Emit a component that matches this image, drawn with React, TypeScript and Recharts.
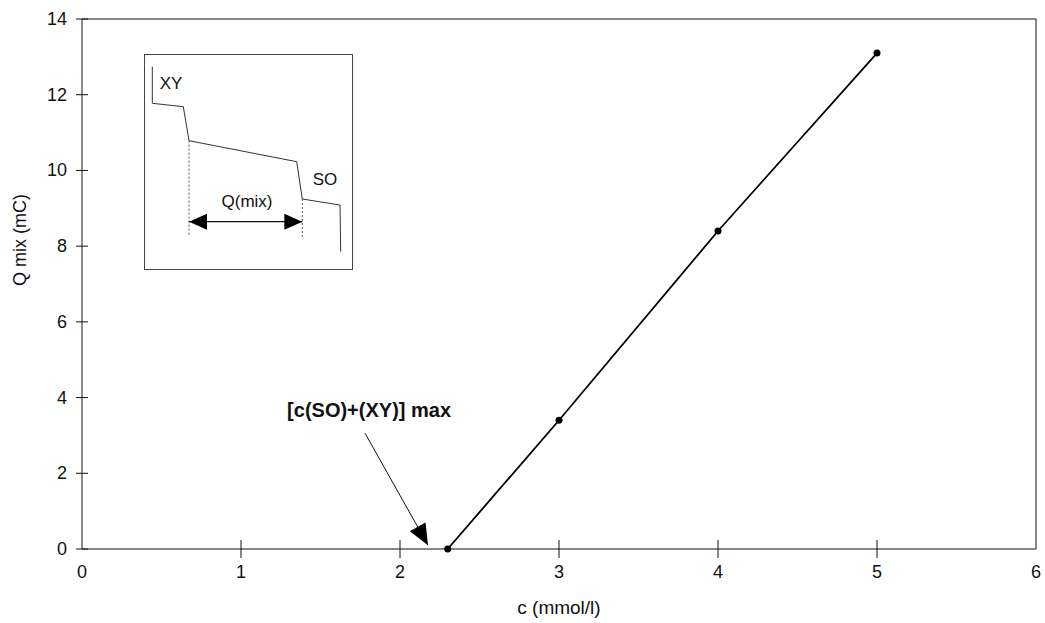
import React from 'react';
import {
  LineChart,
  Line,
  XAxis,
  YAxis,
  ReferenceLine,
  ReferenceDot,
} from 'recharts';

if (typeof document !== 'undefined') document.body.style.margin = '0';

const FONT = '"Liberation Sans", Arial, sans-serif';

// main series: c (mmol/l) vs Q mix (mC)
const cValues = [2.3, 3, 4, 5];
const qValues = [0, 3.4, 8.4, 13.1];
const xTicks = [0, 1, 2, 3, 4, 5, 6];
const yTicks = [0, 2, 4, 6, 8, 10, 12, 14];

// annotation arrow for "[c(SO)+(XY)] max"
const arrowC = [1.78, 2.176];
const arrowQ = [3.06, 0.1];
const noteText = '[c(SO)+(XY)] max';
const noteAt = { c: 1.29, q: 3.67 };

// inset schematic (arbitrary units: time vs potential)
const insetT = [7.3, 7.3, 38.3, 44, 151.7, 157.3, 195, 195.7];
const insetV = [202.3, 165.7, 162.3, 128.3, 107.3, 70, 64, 17.3];
const insetMarks = [
  { t: 44, top: 128.3, bottom: 32.3 },
  { t: 157.3, top: 70, bottom: 32.3 },
];
const insetArrowT = [44, 157.3];
const insetArrowV = 47.3;

const mainData = cValues.map((c, i) => ({ c, q: qValues[i] }));
const arrowData = arrowC.map((c, i) => ({ c, q: arrowQ[i] }));
const insetData = insetT.map((t, i) => ({ t, v: insetV[i] }));
const insetArrowData = insetArrowT.map((t) => ({ t, v: insetArrowV }));

function makeArrowDot(ends: number[], len: number, half: number) {
  return (props: any) => {
    const { cx, cy, index, points } = props;
    if (!ends.includes(index) || !points || points.length < 2) return <g key={`a-${index}`} />;
    const other = points[index === 0 ? 1 : index - 1];
    let dx = cx - other.x;
    let dy = cy - other.y;
    const d = Math.hypot(dx, dy) || 1;
    dx /= d;
    dy /= d;
    const bx = cx - dx * len;
    const by = cy - dy * len;
    const px = -dy * half;
    const py = dx * half;
    return (
      <polygon
        key={`a-${index}`}
        points={`${cx},${cy} ${bx + px},${by + py} ${bx - px},${by - py}`}
        fill="#000"
      />
    );
  };
}

const XTick = (props: any) => {
  const { x, y, payload } = props;
  const v = payload.value;
  return (
    <g>
      {v !== 0 && v !== 6 ? <line x1={x} x2={x} y1={y - 9} y2={y + 9} stroke="#111" /> : null}
      <text x={x} y={y + 29} textAnchor="middle" fontSize={18} fontFamily={FONT} fill="#111">
        {v}
      </text>
    </g>
  );
};

const YTick = (props: any) => {
  const { x, y, payload } = props;
  return (
    <g>
      <line x1={x - 6} x2={x + 6} y1={y} y2={y} stroke="#111" />
      <text x={x - 15} y={y + 6} textAnchor="end" fontSize={18} fontFamily={FONT} fill="#111">
        {payload.value}
      </text>
    </g>
  );
};

const insetLabel = (txt: string) => (p: any) => (
  <text x={p.cx} y={p.cy} textAnchor="middle" dominantBaseline="central" fontSize={17} fontFamily={FONT} fill="#111">
    {txt}
  </text>
);

function Inset() {
  return (
    <div
      style={{
        position: 'absolute',
        left: 145,
        top: 55,
        width: 207,
        height: 214,
        outline: '1px solid #444',
        background: '#fff',
      }}
    >
      <LineChart width={207} height={214} margin={{ top: 0, right: 0, bottom: 0, left: 0 }}>
        <XAxis dataKey="t" type="number" domain={[0, 207]} hide />
        <YAxis type="number" domain={[0, 214]} hide />
        {insetMarks.map((m) => (
          <ReferenceLine
            key={m.t}
            segment={[
              { x: m.t, y: m.top },
              { x: m.t, y: m.bottom },
            ]}
            stroke="#555"
            strokeDasharray="2 2"
          />
        ))}
        <Line
          data={insetData}
          dataKey="v"
          type="linear"
          stroke="#333"
          strokeWidth={1}
          dot={false}
          isAnimationActive={false}
        />
        <Line
          data={insetArrowData}
          dataKey="v"
          type="linear"
          stroke="#111"
          strokeWidth={1.2}
          dot={makeArrowDot([0, 1], 18, 8)}
          isAnimationActive={false}
        />
        <ReferenceDot x={26} y={186} r={0} shape={insetLabel('XY')} />
        <ReferenceDot x={180} y={90} r={0} shape={insetLabel('SO')} />
        <ReferenceDot x={102} y={68} r={0} shape={insetLabel('Q(mix)')} />
      </LineChart>
    </div>
  );
}

export default function App() {
  return (
    <div style={{ position: 'relative', width: 1045, height: 623, background: '#fff' }}>
      <LineChart width={1045} height={623} margin={{ top: 19, right: 9, bottom: 0, left: 0 }}>
        <XAxis
          dataKey="c"
          type="number"
          domain={[0, 6]}
          ticks={xTicks}
          interval={0}
          height={74}
          tickSize={0}
          tickMargin={0}
          tickLine={false}
          axisLine={{ stroke: '#111' }}
          tick={<XTick />}
          label={{
            content: ({ viewBox }: any) => (
              <text
                x={viewBox.x + viewBox.width / 2}
                y={viewBox.y + 58}
                textAnchor="middle"
                dominantBaseline="central"
                fontSize={19}
                fontFamily={FONT}
                fill="#111"
              >
                c (mmol/l)
              </text>
            ),
          }}
        />
        <YAxis
          type="number"
          domain={[0, 14]}
          ticks={yTicks}
          interval={0}
          width={82}
          tickSize={0}
          tickMargin={0}
          tickLine={false}
          axisLine={{ stroke: '#111' }}
          tick={<YTick />}
          label={{
            content: ({ viewBox }: any) => (
              <text
                x={20}
                y={viewBox.y + 221}
                transform={`rotate(-90, 20, ${viewBox.y + 221})`}
                textAnchor="middle"
                dominantBaseline="central"
                fontSize={18}
                fontFamily={FONT}
                fill="#111"
              >
                Q mix (mC)
              </text>
            ),
          }}
        />
        <ReferenceLine x={6} stroke="#111" />
        <ReferenceLine y={14} stroke="#111" />
        <Line
          data={arrowData}
          dataKey="q"
          type="linear"
          stroke="#111"
          strokeWidth={1}
          dot={makeArrowDot([1], 21, 9)}
          isAnimationActive={false}
        />
        <Line
          data={mainData}
          dataKey="q"
          type="linear"
          stroke="#000"
          strokeWidth={1.8}
          dot={{ r: 3.5, fill: '#000', stroke: '#000', strokeWidth: 0 }}
          isAnimationActive={false}
        />
        <ReferenceDot
          x={noteAt.c}
          y={noteAt.q}
          r={0}
          shape={(p: any) => (
            <text x={p.cx} y={p.cy} dominantBaseline="central" fontSize={20} fontWeight="bold" fontFamily={FONT} fill="#111">
              {noteText}
            </text>
          )}
        />
      </LineChart>
      <Inset />
    </div>
  );
}
